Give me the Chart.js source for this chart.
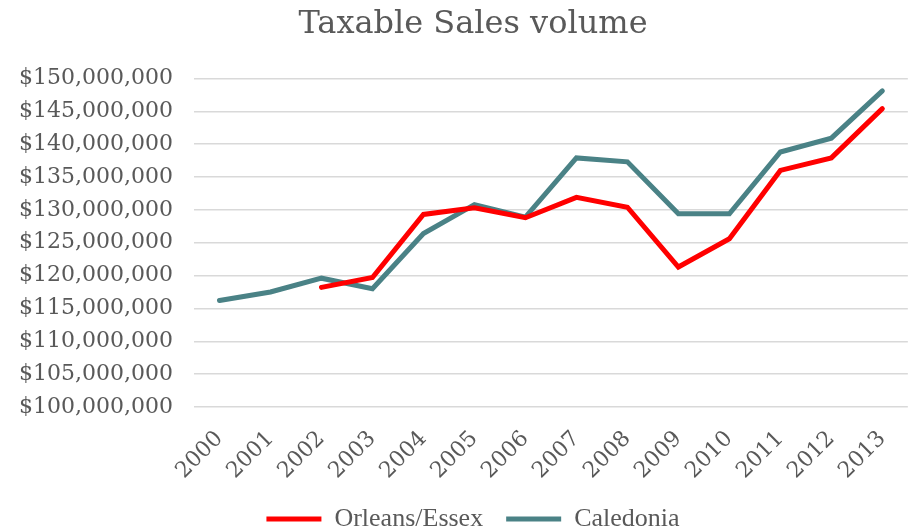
<!DOCTYPE html>
<html>
<head>
<meta charset="utf-8">
<script src="https://cdn.jsdelivr.net/npm/chart.js@4"></script>
<style>
  html, body { margin: 0; padding: 0; background: #fff; }
  #wrap { width: 912px; height: 532px; }
</style>
</head>
<body>
<div id="wrap"><canvas id="myChart"></canvas></div>
<script>
var years = ['2000', '2001', '2002', '2003', '2004', '2005', '2006', '2007', '2008', '2009', '2010', '2011', '2012', '2013'];
var orleansEssex = [null, null, 118200000, 119700000, 129300000, 130300000, 128800000, 131900000, 130400000, 121300000, 125600000, 136000000, 137900000, 145400000];
var caledonia = [116200000, 117500000, 119600000, 118000000, 126400000, 130800000, 128900000, 137900000, 137300000, 129400000, 129400000, 138800000, 140900000, 148100000];

var textColor = '#595959';
var serif = "'DejaVu Serif', Georgia, serif";

// the y labels reach past the left padding, so widen their clip box after layout
var widenYLabels = {
  id: 'widenYLabels',
  afterLayout: function (chart) {
    var y = chart.scales.y;
    y.width = y.right;
    y.left = 0;
  }
};

var ctx = document.getElementById('myChart').getContext('2d');
var myChart = new Chart(ctx, {
  type: 'line',
  data: {
    labels: years,
    datasets: [{
      label: 'Orleans/Essex',
      data: orleansEssex,
      borderColor: '#ff0000',
      backgroundColor: '#ff0000',
      borderWidth: 5,
      borderCapStyle: 'round',
      pointRadius: 0,
      tension: 0
    }, {
      label: 'Caledonia',
      data: caledonia,
      borderColor: '#4a8286',
      backgroundColor: '#4a8286',
      borderWidth: 5,
      borderCapStyle: 'round',
      pointRadius: 0,
      tension: 0
    }]
  },
  options: {
    responsive: true,
    maintainAspectRatio: false,
    animation: false,
    layout: { padding: { left: 34, right: 0, top: 0, bottom: -10 } },
    scales: {
      x: {
        offset: true,
        grid: { display: false },
        border: { display: false },
        ticks: {
          color: textColor,
          font: { family: serif, size: 22 },
          minRotation: 45,
          maxRotation: 45,
          padding: 11
        },
        afterFit: function (scale) { scale.height = 76; }
      },
      y: {
        min: 100000000,
        max: 150000000,
        grid: { color: '#d9d9d9', lineWidth: 1.5, drawTicks: false },
        border: { display: false },
        ticks: {
          stepSize: 5000000,
          color: textColor,
          padding: 21,
          font: { family: serif, size: 22 },
          callback: function (v) { return '$' + v.toLocaleString('en-US'); }
        },
        afterFit: function (scale) { scale.width = 160; }
      }
    },
    plugins: {
      title: {
        display: true,
        text: 'Taxable Sales volume',
        color: textColor,
        font: { family: serif, size: 32, weight: 'normal', lineHeight: 1.2 },
        padding: { top: 5, bottom: 35 }
      },
      legend: {
        position: 'bottom',
        labels: {
          color: textColor,
          font: { family: "'Liberation Serif', serif", size: 26 },
          usePointStyle: true,
          pointStyle: 'line',
          pointStyleWidth: 55,
          padding: 23
        }
      },
      tooltip: { enabled: false }
    }
  },
  plugins: [widenYLabels]
});
</script>
</body>
</html>
